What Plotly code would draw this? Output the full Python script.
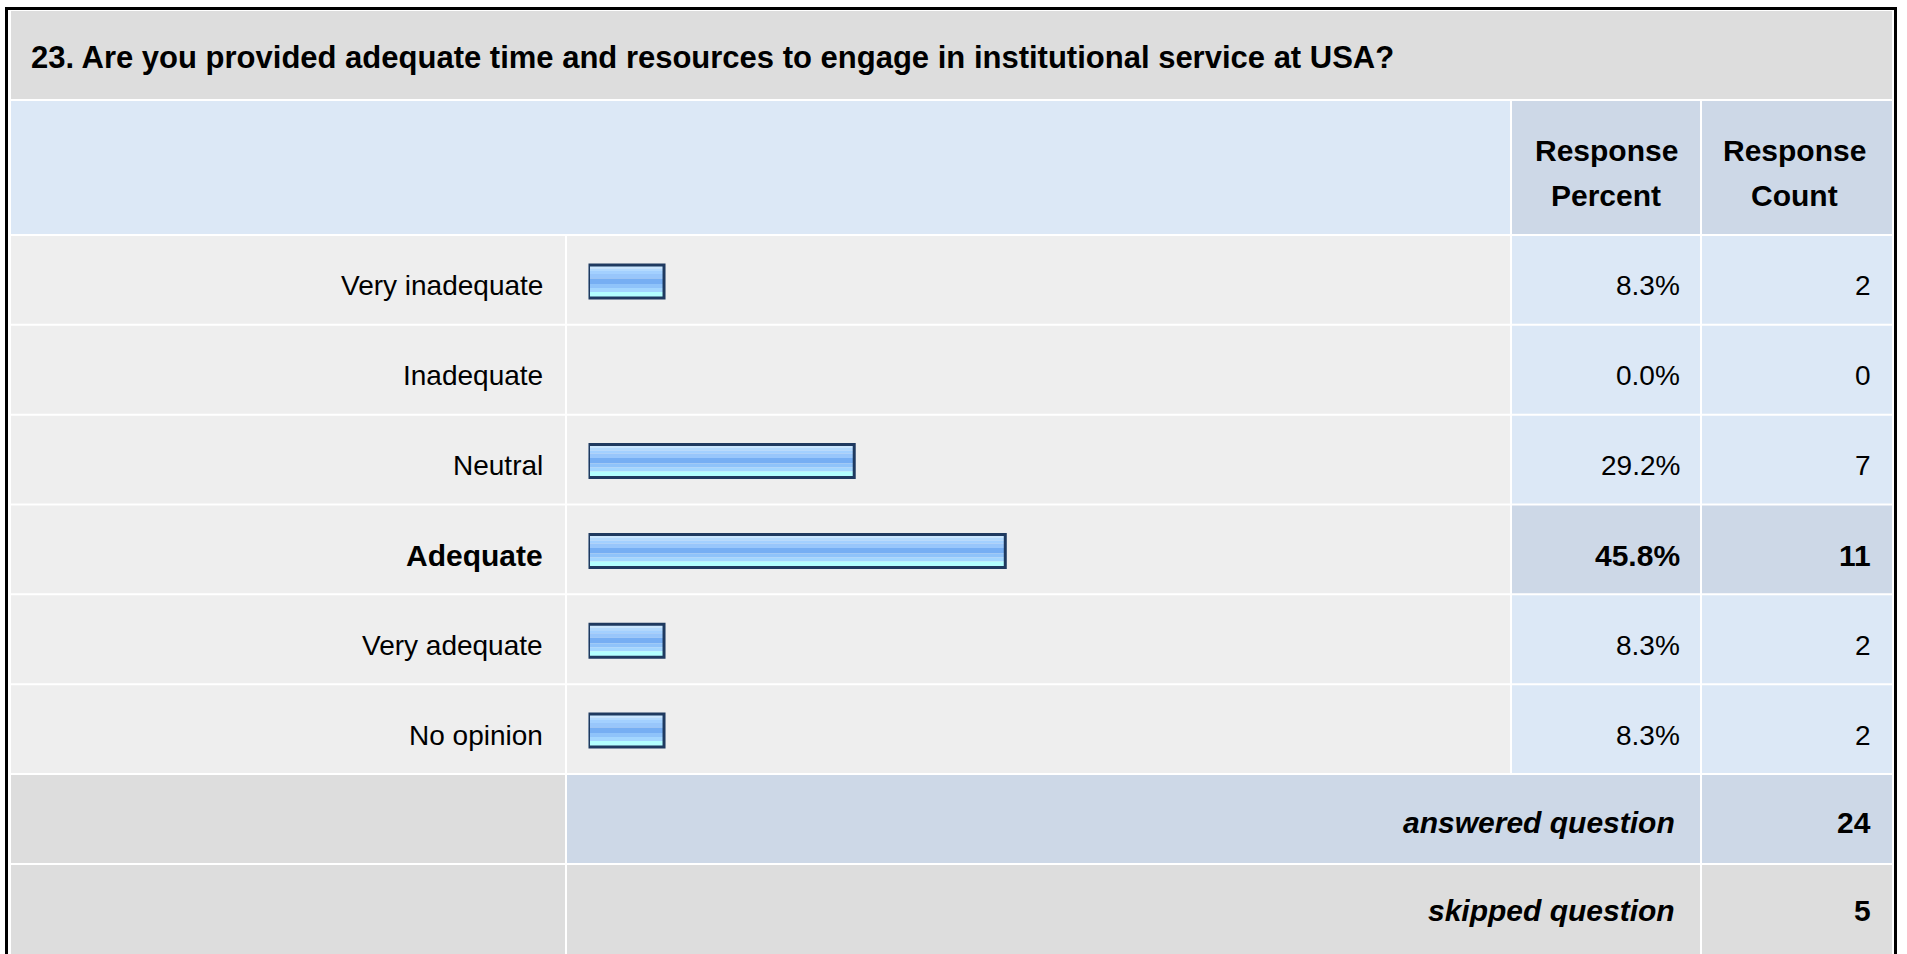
import plotly.graph_objects as go

# ---------------- data ----------------
title = "23. Are you provided adequate time and resources to engage in institutional service at USA?"
categories = ["Very inadequate", "Inadequate", "Neutral", "Adequate", "Very adequate", "No opinion"]
percents = [8.3, 0.0, 29.2, 45.8, 8.3, 8.3]
counts = [2, 0, 7, 11, 2, 2]
header_percent = ["Response", "Percent"]
header_count = ["Response", "Count"]
answered_label = "answered question"
answered_count = 24
skipped_label = "skipped question"
skipped_count = 5

# ---------------- layout geometry (pixels) ----------------
W, H = 1907, 954
col_edges = [10, 566, 1511, 1701, 1893]
row_edges = [10, 100, 235, 324.8, 414.7, 504.5, 594.3, 684.2, 774, 864, 960]
row_h = (774 - 235) / 6.0

C_TITLE = "#DDDDDD"
C_HEAD_L = "#DCE8F6"
C_HEAD_R = "#CDD8E7"
C_ROW = "#EEEEEE"
C_VAL = "#DCE8F6"
C_VAL_HI = "#CDD8E7"
C_FOOT = "#DDDDDD"

FONT = "Liberation Sans, Arial, Helvetica, sans-serif"
REG = 28
BOLD = 30

shapes = []


def cell(c0, c1, r0, r1, color):
    shapes.append(dict(type="rect", xref="x", yref="y", layer="below",
                       x0=col_edges[c0] + 1, x1=col_edges[c1] - 1,
                       y0=row_edges[r0] + 1, y1=row_edges[r1] - 1,
                       fillcolor=color, line=dict(width=0)))


# title band
cell(0, 4, 0, 1, C_TITLE)
# header
cell(0, 2, 1, 2, C_HEAD_L)
cell(2, 3, 1, 2, C_HEAD_R)
cell(3, 4, 1, 2, C_HEAD_R)
# data rows
hi = counts.index(max(counts))
for i in range(len(categories)):
    r = 2 + i
    cell(0, 1, r, r + 1, C_ROW)
    cell(1, 2, r, r + 1, C_ROW)
    vc = C_VAL_HI if i == hi else C_VAL
    cell(2, 3, r, r + 1, vc)
    cell(3, 4, r, r + 1, vc)
# answered row
cell(0, 1, 8, 9, C_FOOT)
cell(1, 3, 8, 9, C_HEAD_R)
cell(3, 4, 8, 9, C_HEAD_R)
# skipped row
cell(0, 1, 9, 10, C_FOOT)
cell(1, 3, 9, 10, C_FOOT)
cell(3, 4, 9, 10, C_FOOT)

# outer frame
shapes.append(dict(type="rect", xref="x", yref="y", layer="above",
                   x0=6.5, x1=1895.5, y0=8.5, y1=1000,
                   fillcolor="rgba(0,0,0,0)", line=dict(color="#000000", width=3)))

fig = go.Figure()

# ---------------- bars (gradient made of stacked stripes) ----------------
BAR_H = 36.0
BAR_SHIFT = 1.5   # px downward from row centre
stripes = [
    (1.5, 5.0, "#C9E6FF"),
    (5.0, 7.5, "#B3DAFF"),
    (7.5, 10.5, "#A3D0FF"),
    (10.5, 15.0, "#98C6FB"),
    (15.0, 20.5, "#76AEF3"),
    (20.5, 24.5, "#8FC3FA"),
    (24.5, 28.5, "#A3D6FF"),
    (28.5, 34.5, "#B3FFFF"),
]
for t, b, col in stripes:
    fig.add_trace(go.Bar(
        x=percents, y=categories, orientation="h",
        xaxis="x2", yaxis="y2",
        offset=(t - BAR_H / 2 + BAR_SHIFT) / row_h, width=(b - t) / row_h,
        marker=dict(color=col, line=dict(width=0)),
        hoverinfo="skip", showlegend=False))
# border (no border drawn for empty bars)
fig.add_trace(go.Bar(
    x=percents, y=categories, orientation="h",
    xaxis="x2", yaxis="y2",
    offset=(1.5 - BAR_H / 2 + BAR_SHIFT) / row_h, width=(BAR_H - 3) / row_h,
    marker=dict(color="rgba(0,0,0,0)",
                line=dict(width=[3 if p > 0 else 0 for p in percents], color="#1F3A60")),
    hoverinfo="skip", showlegend=False))

# ---------------- text ----------------
ann = []
ann.append(dict(text="<b>" + title + "</b>", x=29, y=57, xref="x", yref="y",
                xanchor="left", yanchor="middle", showarrow=False,
                font=dict(size=31, color="#000000", family=FONT)))

pc_x = (col_edges[2] + col_edges[3]) / 2
cc_x = (col_edges[3] + col_edges[4]) / 2 - 3
for cx, lines in ((pc_x, header_percent), (cc_x, header_count)):
    for j, ln in enumerate(lines):
        ann.append(dict(text="<b>" + ln + "</b>", x=cx, y=150 + 45 * j, xref="x", yref="y",
                        xanchor="center", yanchor="middle", showarrow=False,
                        font=dict(size=30, color="#000000", family=FONT)))

for i, (cat, p, c) in enumerate(zip(categories, percents, counts)):
    if i == hi:
        b0, b1, fs = "<b>", "</b>", BOLD
    else:
        b0, b1, fs = "", "", REG
    common = dict(yref="y2", y=cat, xref="x", xanchor="right", yanchor="middle",
                  showarrow=False, yshift=-6, font=dict(size=fs, color="#000000", family=FONT))
    ann.append(dict(text=b0 + cat + b1, x=545, **common))
    ann.append(dict(text=b0 + f"{p:.1f}%" + b1, x=1682, **common))
    ann.append(dict(text=b0 + str(c) + b1, x=1873, **common))

for yc, lab, val in ((822, answered_label, answered_count), (910, skipped_label, skipped_count)):
    ann.append(dict(text="<b><i>" + lab + "</i></b>", x=1677, y=yc, xref="x", yref="y",
                    xanchor="right", yanchor="middle", showarrow=False,
                    font=dict(size=BOLD, color="#000000", family=FONT)))
    ann.append(dict(text="<b>" + str(val) + "</b>", x=1873, y=yc, xref="x", yref="y",
                    xanchor="right", yanchor="middle", showarrow=False,
                    font=dict(size=BOLD, color="#000000", family=FONT)))

x2_left = 588.5
px_per_pct = 9.1
fig.update_layout(
    width=W, height=H,
    margin=dict(l=0, r=0, t=0, b=0, pad=0),
    paper_bgcolor="#FFFFFF", plot_bgcolor="rgba(0,0,0,0)",
    barmode="overlay", showlegend=False,
    xaxis=dict(range=[0, W], domain=[0, 1], visible=False, fixedrange=True),
    yaxis=dict(range=[H, 0], domain=[0, 1], visible=False, fixedrange=True),
    xaxis2=dict(domain=[x2_left / W, (x2_left + 100 * px_per_pct) / W], range=[0, 100],
                anchor="y2", visible=False, fixedrange=True),
    yaxis2=dict(domain=[1 - 774 / H, 1 - 235 / H], type="category",
                categoryorder="array", categoryarray=categories,
                range=[len(categories) - 0.5, -0.5],
                anchor="x2", visible=False, fixedrange=True),
    shapes=shapes, annotations=ann,
)

fig.write_html("out.html", config={"displayModeBar": False},
               post_script="document.body.style.margin='0';document.body.style.overflow='hidden';")
